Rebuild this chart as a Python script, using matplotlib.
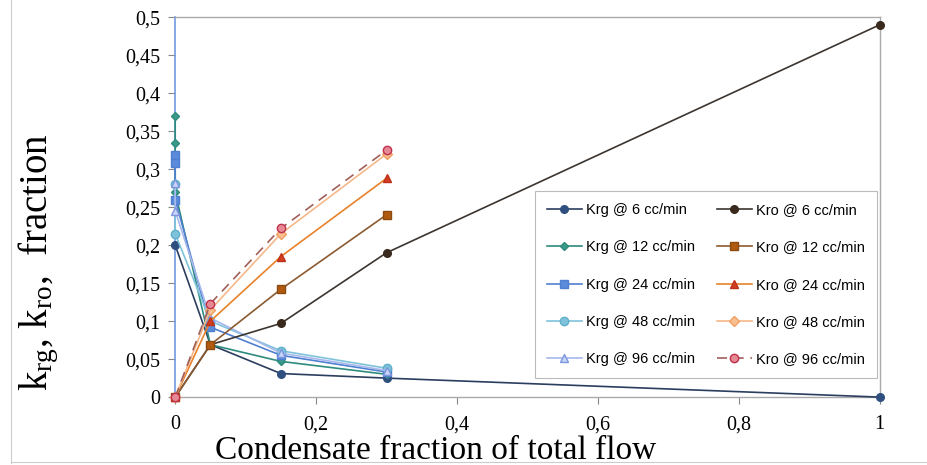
import matplotlib
matplotlib.use("Agg")
import matplotlib.pyplot as plt
from matplotlib.ticker import FuncFormatter, MultipleLocator
from matplotlib.lines import Line2D

# ---- data ----
labels_krg = ["Krg @ 6 cc/min", "Krg @ 12 cc/min", "Krg @ 24 cc/min",
              "Krg @ 48 cc/min", "Krg @ 96 cc/min"]
labels_kro = ["Kro @ 6 cc/min", "Kro @ 12 cc/min", "Kro @ 24 cc/min",
              "Kro @ 48 cc/min", "Kro @ 96 cc/min"]

krg6_x = [0, 0.05, 0.15, 0.3, 1.0]
krg6_y = [0.200, 0.069, 0.031, 0.025, 0.0]
krg12_x = [0, 0, 0, 0.05, 0.15, 0.3]
krg12_y = [0.370, 0.335, 0.270, 0.069, 0.047, 0.030]
krg24_x = [0, 0, 0, 0.05, 0.15, 0.3]
krg24_y = [0.318, 0.308, 0.260, 0.092, 0.055, 0.033]
krg48_x = [0, 0, 0.05, 0.15, 0.3]
krg48_y = [0.280, 0.215, 0.100, 0.061, 0.038]
krg96_x = [0, 0, 0.05, 0.15, 0.3]
krg96_y = [0.282, 0.245, 0.104, 0.058, 0.035]

kro6_x = [0, 0.05, 0.15, 0.3, 1.0]
kro6_y = [0.0, 0.069, 0.097, 0.190, 0.490]
kro12_x = [0, 0.05, 0.15, 0.3]
kro12_y = [0.0, 0.069, 0.142, 0.240]
kro24_x = [0, 0.05, 0.15, 0.3]
kro24_y = [0.0, 0.100, 0.185, 0.288]
kro48_x = [0, 0.05, 0.15, 0.3]
kro48_y = [0.0, 0.115, 0.215, 0.320]
kro96_x = [0, 0.05, 0.15, 0.3]
kro96_y = [0.0, 0.123, 0.222, 0.325]

x_ticks = [0, 0.2, 0.4, 0.6, 0.8, 1.0]

# ---- styling ----
plt.rcParams['mathtext.fontset'] = 'custom'
plt.rcParams['mathtext.rm'] = 'Liberation Serif'
plt.rcParams['mathtext.it'] = 'Liberation Serif:italic'

fig = plt.figure(figsize=(9.27, 4.65), dpi=100)
ax = fig.add_axes([0.189, 0.146, 0.760, 0.817])

krg_series = [
    (krg6_x, krg6_y, dict(color="#2B3E5E", marker="o", mfc="#2F4F7F", mec="#2F4F7F", ms=5.5)),
    (krg12_x, krg12_y, dict(color="#2E8B7E", marker="D", mfc="#3A9A88", mec="#2E8B7E", ms=4.5)),
    (krg24_x, krg24_y, dict(color="#4F7FD0", marker="s", mfc="#5B8BDA", mec="#4F7FD0", ms=5.5)),
    (krg48_x, krg48_y, dict(color="#7FC3DB", marker="o", mfc="#7FC3DB", mec="#5FAFCB", ms=6)),
    (krg96_x, krg96_y, dict(color="#A7B8EC", marker="^", mfc="#C9D5F6", mec="#7C95DD", ms=6)),
]
kro_series = [
    (kro6_x, kro6_y, dict(color="#3C3530", marker="o", mfc="#3A2A1E", mec="#3A2A1E", ms=5.5)),
    (kro12_x, kro12_y, dict(color="#8C5A30", marker="s", mfc="#B05A10", mec="#8C4A10", ms=5.5)),
    (kro24_x, kro24_y, dict(color="#E8822A", marker="^", mfc="#D04020", mec="#C03018", ms=6)),
    (kro48_x, kro48_y, dict(color="#F5B88A", marker="D", mfc="#F8C090", mec="#F0A060", ms=5)),
    (kro96_x, kro96_y, dict(color="#A0605A", marker="o", mfc="#E58A95", mec="#C0304A", ms=6,
                            linestyle=(0, (6, 4)))),
]

handles = []
for (xs, ys, st), lab in zip(krg_series, labels_krg):
    kw = dict(st)
    ls = kw.pop("linestyle", "-")
    h, = ax.plot(xs, ys, linestyle=ls, lw=1.2, label=lab, zorder=3, clip_on=False, **kw)
    handles.append(h)
for (xs, ys, st), lab in zip(kro_series, labels_kro):
    kw = dict(st)
    ls = kw.pop("linestyle", "-")
    h, = ax.plot(xs, ys, linestyle=ls, lw=1.2, label=lab, zorder=3, clip_on=False, **kw)
    handles.append(h)

ax.set_xlim(0, 1.0)
ax.set_ylim(0, 0.5)
ax.set_xticks(x_ticks)
ax.yaxis.set_major_locator(MultipleLocator(0.05))

def comma_fmt(v, pos):
    s = f"{v:.2f}".rstrip("0").rstrip(".")
    if s in ("-0", ""):
        s = "0"
    return s.replace(".", ",")

ax.xaxis.set_major_formatter(FuncFormatter(comma_fmt))
ax.yaxis.set_major_formatter(FuncFormatter(comma_fmt))

for lab in ax.get_xticklabels() + ax.get_yticklabels():
    lab.set_fontfamily("Liberation Serif")
    lab.set_fontsize(14.5)
ax.tick_params(axis="both", direction="out", length=5, color="#888888", pad=6)
ax.tick_params(axis="x", pad=8)

for side in ["top", "right", "bottom"]:
    ax.spines[side].set_color("#AAAAAA")
    ax.spines[side].set_linewidth(1.0)
ax.spines["left"].set_color("#6F9AE0")
ax.spines["left"].set_linewidth(1.2)

ax.set_xlabel("Condensate fraction of total flow", fontfamily="Liberation Serif",
              fontsize=24)
ax.xaxis.set_label_coords(0.369, -0.102)
ax.set_ylabel(r"k$_{\rm rg}$, k$_{\rm ro}$,  fraction", fontfamily="Liberation Serif",
              fontsize=28)
ax.yaxis.set_label_coords(-0.162, 0.355)

leg = ax.legend(handles=handles, ncol=2, loc="lower right",
                bbox_to_anchor=(0.996, 0.05), prop={"family": "Liberation Sans", "size": 10.5},
                frameon=True, fancybox=False, edgecolor="#AAAAAA", labelspacing=1.6,
                columnspacing=1.5, handlelength=2.4, borderpad=0.8, handletextpad=0.3,
                borderaxespad=0)
leg.get_frame().set_linewidth(0.8)

# faint figure border lines
fig.add_artist(Line2D([0.012, 0.012], [0.005, 1.0], transform=fig.transFigure,
                      color="#CCCCCC", lw=0.8))
fig.add_artist(Line2D([0.012, 1.0], [0.006, 0.006], transform=fig.transFigure,
                      color="#CCCCCC", lw=0.8))

fig.savefig("out.png", dpi=100)
